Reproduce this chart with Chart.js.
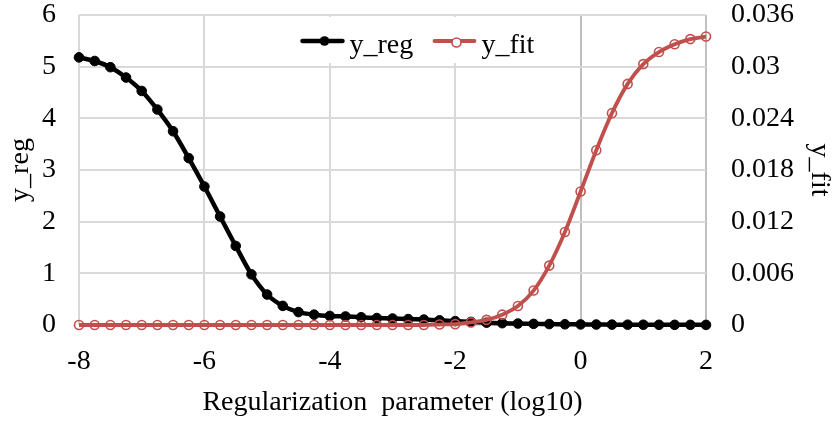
<!DOCTYPE html>
<html>
<head>
<meta charset="utf-8">
<script src="https://cdn.jsdelivr.net/npm/chart.js@4/dist/chart.umd.min.js"></script>
<style>
  html, body { margin: 0; padding: 0; background: #ffffff; }
  #wrap { width: 836px; height: 421px; position: relative; }
</style>
</head>
<body>
<div id="wrap"><canvas id="c" width="836" height="421"></canvas></div>
<script>
// ---- data ----
const xValues = [-8, -7.75, -7.5, -7.25, -7, -6.75, -6.5, -6.25, -6, -5.75, -5.5, -5.25, -5,
  -4.75, -4.5, -4.25, -4, -3.75, -3.5, -3.25, -3, -2.75, -2.5, -2.25, -2, -1.75, -1.5, -1.25,
  -1, -0.75, -0.5, -0.25, 0, 0.25, 0.5, 0.75, 1, 1.25, 1.5, 1.75, 2];

const yReg = [5.18, 5.11, 4.99, 4.79, 4.53, 4.17, 3.75, 3.23, 2.68, 2.10, 1.53, 0.98, 0.59,
  0.37, 0.25, 0.20, 0.175, 0.165, 0.15, 0.135, 0.125, 0.115, 0.105, 0.09, 0.075, 0.06, 0.045, 0.035,
  0.028, 0.022, 0.018, 0.014, 0.011, 0.009, 0.007, 0.006, 0.005, 0.004, 0.003, 0.003, 0.002];

const yFit = [0, 0, 0, 0, 0, 0, 0, 0, 0, 0, 0, 0, 0,
  0, 0, 0, 0, 0, 0, 0, 0, 0, 0, 0.00005, 0.0001, 0.0003, 0.0006, 0.0012,
  0.0022, 0.0040, 0.0069, 0.0108, 0.0155, 0.0203, 0.0246, 0.0280, 0.0303, 0.0317, 0.0326, 0.0332, 0.0335];

const seriesNames = ['y_reg', 'y_fit'];
const xTickValues = [-8, -6, -4, -2, 0, 2];
const leftTickValues = [0, 1, 2, 3, 4, 5, 6];
const rightTickValues = [0, 0.006, 0.012, 0.018, 0.024, 0.03, 0.036];
const xTitle = 'Regularization  parameter (log10)';

// ---- styling ----
const FONT = "'Liberation Serif', 'Times New Roman', serif";
const BLACK = '#000000';
const RED = '#C0504D';
const GRID = '#d9d9d9';
const AXISGRID = '#bfbfbf';

const toPoints = (xs, ys) => xs.map((x, i) => ({ x: x, y: ys[i] }));

// custom legend drawn inside the plot area (line + marker samples)
const insideLegend = {
  id: 'insideLegend',
  afterDatasetsDraw(chart) {
    const ctx = chart.ctx;
    const ca = chart.chartArea;
    const cx = (ca.left + ca.right) / 2;
    ctx.save();
    ctx.fillStyle = '#ffffff';
    ctx.fillRect(cx - 97, ca.top + 2, 263, 46);
    ctx.font = '28px ' + FONT;
    ctx.textBaseline = 'alphabetic';
    ctx.textAlign = 'left';
    const lineY = ca.top + 26;
    const items = chart.data.datasets.map(ds => ({
      label: ds.label, color: ds.borderColor, fill: ds.pointBackgroundColor,
      lw: ds.borderWidth, r: ds.pointRadius, pbw: ds.pointBorderWidth
    }));
    const starts = [cx - 90, cx + 42];
    items.forEach((it, i) => {
      const x0 = starts[i];
      ctx.strokeStyle = it.color;
      ctx.lineWidth = it.lw;
      ctx.lineCap = 'round';
      ctx.beginPath();
      ctx.moveTo(x0, lineY);
      ctx.lineTo(x0 + 40, lineY);
      ctx.stroke();
      ctx.beginPath();
      ctx.arc(x0 + 22, lineY + (i === 1 ? 1.5 : 0), it.r, 0, Math.PI * 2);
      if (i === 0) {
        ctx.fillStyle = it.color;
        ctx.fill();
      } else {
        ctx.fillStyle = '#ffffff';
        ctx.fill();
        ctx.lineWidth = it.pbw;
        ctx.stroke();
      }
      ctx.fillStyle = '#000000';
      ctx.fillText(it.label, x0 + 47, ca.top + 38);
    });
    ctx.restore();
  }
};

const fixedTicks = values => function (scale) {
  scale.ticks = values.map(v => ({ value: v }));
};

new Chart(document.getElementById('c'), {
  type: 'line',
  data: {
    datasets: [
      {
        label: seriesNames[0],
        data: toPoints(xValues, yReg),
        yAxisID: 'y',
        borderColor: BLACK,
        backgroundColor: BLACK,
        borderWidth: 4.5,
        pointRadius: 4.8,
        pointBackgroundColor: BLACK,
        pointBorderColor: BLACK,
        pointBorderWidth: 1,
        tension: 0.3,
        clip: false,
        order: 2
      },
      {
        label: seriesNames[1],
        data: toPoints(xValues, yFit),
        yAxisID: 'y1',
        borderColor: RED,
        backgroundColor: RED,
        borderWidth: 3.8,
        pointRadius: 4.5,
        pointBackgroundColor: 'rgba(255,255,255,0)',
        pointBorderColor: RED,
        pointBorderWidth: 1.6,
        tension: 0.3,
        clip: false,
        order: 1
      }
    ]
  },
  options: {
    responsive: false,
    animation: false,
    devicePixelRatio: 1,
    layout: { padding: { top: 15, left: 0, right: 0, bottom: 0 } },
    plugins: {
      legend: { display: false },
      tooltip: { enabled: false }
    },
    scales: {
      x: {
        type: 'linear',
        min: -8, max: 2,
        afterBuildTicks: fixedTicks(xTickValues),
        afterFit(scale) { scale.height = 96; scale.paddingLeft = 0; scale.paddingRight = 0; },
        border: { display: false },
        grid: {
          drawTicks: false,
          lineWidth: 2,
          color: c => (c.tick && (c.tick.value === 0 || c.tick.value === 2)) ? AXISGRID : GRID
        },
        ticks: {
          font: { family: FONT, size: 28 },
          color: '#000',
          padding: 20,
          maxRotation: 0,
          callback: v => String(v)
        },
        title: {
          display: true,
          text: xTitle,
          font: { family: FONT, size: 28 },
          color: '#000',
          padding: { top: 0, bottom: 2 }
        }
      },
      y: {
        position: 'left',
        min: 0, max: 6,
        afterBuildTicks: fixedTicks(leftTickValues),
        afterFit(scale) { scale.width = 79; scale.paddingTop = 0; scale.paddingBottom = 0; },
        border: { display: false },
        grid: { drawTicks: false, lineWidth: 2, color: GRID },
        ticks: {
          font: { family: FONT, size: 28 },
          color: '#000',
          padding: 23,
          callback: v => String(v)
        },
        title: {
          display: true,
          text: seriesNames[0],
          font: { family: FONT, size: 28 },
          color: '#000',
          padding: { top: 4, bottom: 0 }
        }
      },
      y1: {
        position: 'right',
        min: 0, max: 0.036,
        afterBuildTicks: fixedTicks(rightTickValues),
        afterFit(scale) { scale.width = 130; scale.paddingTop = 0; scale.paddingBottom = 0; },
        border: { display: false },
        grid: { drawOnChartArea: false, drawTicks: false },
        ticks: {
          font: { family: FONT, size: 28 },
          color: '#000',
          padding: 25,
          callback: v => String(+v.toFixed(3))
        },
        title: {
          display: true,
          text: seriesNames[1],
          font: { family: FONT, size: 28 },
          color: '#000',
          padding: { top: 0, bottom: 0 }
        }
      }
    }
  },
  plugins: [insideLegend]
});
</script>
</body>
</html>
